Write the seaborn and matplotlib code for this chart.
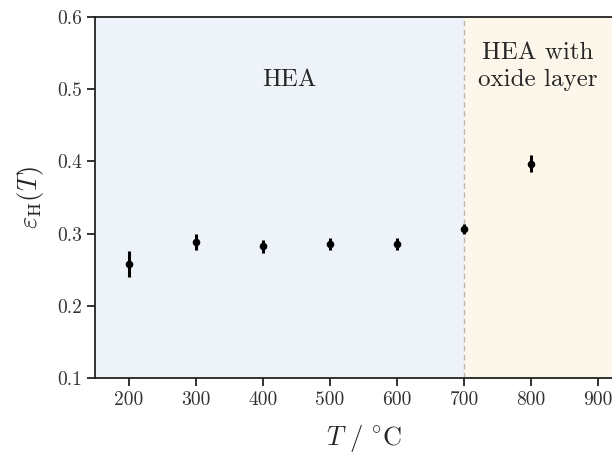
import numpy as np
import pandas as pd
import seaborn as sns
import matplotlib
matplotlib.use("Agg")
import matplotlib.pyplot as plt

# Measured hemispherical emissivity vs. temperature
temperature = [200, 300, 400, 500, 600, 700, 800]
emissivity = [0.258, 0.288, 0.283, 0.286, 0.286, 0.307, 0.397]
emissivity_err = [0.018, 0.011, 0.009, 0.0085, 0.0085, 0.007, 0.012]

x_ticks = [200, 300, 400, 500, 600, 700, 800, 900]
y_ticks = [0.1, 0.2, 0.3, 0.4, 0.5, 0.6]
oxide_onset = 700

sns.set_style("ticks")
plt.rcParams["font.family"] = "serif"
plt.rcParams["font.serif"] = ["cmr10", "DejaVu Serif"]
plt.rcParams["mathtext.fontset"] = "cm"
plt.rcParams["axes.formatter.use_mathtext"] = True

df = pd.DataFrame({"T": temperature, "eps": emissivity, "err": emissivity_err})

fig = plt.figure(figsize=(6.12, 4.59), dpi=100)
ax = fig.add_axes([0.156, 0.176, 0.876, 0.787])

x_lo, x_hi = 150, 950
ax.axvspan(x_lo, oxide_onset, color="#eef3fa", zorder=0, lw=0)
ax.axvspan(oxide_onset, x_hi, color="#fdf6ea", zorder=0, lw=0)
ax.axvline(oxide_onset, color="#b8b8b8", ls=(0, (4, 2.5)), lw=1.0, zorder=1)

ax.errorbar(df["T"], df["eps"], yerr=df["err"], fmt="none", ecolor="black",
            elinewidth=2.2, capsize=0, zorder=3)
sns.scatterplot(data=df, x="T", y="eps", ax=ax, color="black", s=30,
                edgecolor="black", linewidth=0, zorder=4, legend=False)

ax.text(440, 0.513, "HEA", ha="center", va="center", fontsize=18)
ax.text(810, 0.532, "HEA with\noxide layer", ha="center", va="center",
        fontsize=18, linespacing=1.3)

ax.set_xlim(x_lo, x_hi)
ax.set_ylim(0.1, 0.6)
ax.set_xticks(x_ticks)
ax.set_yticks(y_ticks)
ax.set_xticklabels([str(t) for t in x_ticks])
ax.set_yticklabels([f"{v:.1f}" for v in y_ticks])
ax.tick_params(direction="out", length=6, width=1.3, labelsize=14,
               colors="#222222", labelcolor="#333333")
for s in ax.spines.values():
    s.set_linewidth(1.3)
    s.set_color("#222222")

ax.set_xlabel(r"$T\ /\ ^{\circ}\mathrm{C}$", fontsize=19, labelpad=10)
ax.set_ylabel(r"$\varepsilon_{\mathrm{H}}(T)$", fontsize=19, labelpad=8)

fig.savefig("out.png", dpi=100)
